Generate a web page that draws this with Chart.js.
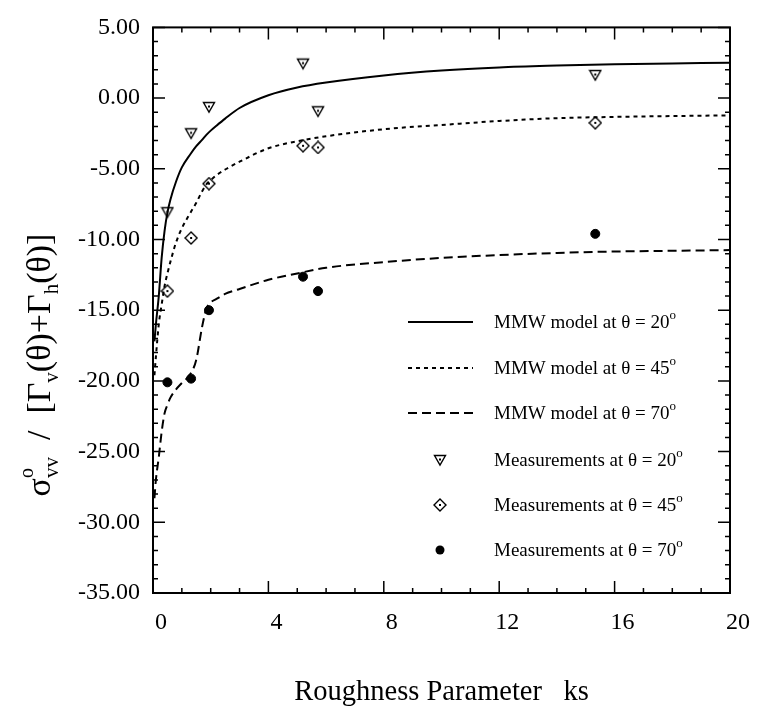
<!DOCTYPE html>
<html lang="en">
<head>
<meta charset="UTF-8">
<title>Roughness Parameter ks</title>
<script src="https://cdn.jsdelivr.net/npm/chart.js"></script>
<style>
  body { margin: 0; background: #ffffff; }
  canvas { display: block; }
</style>
</head>
<body>
<canvas id="grafico" width="757" height="710"></canvas>
<script>
// model curves
const ksModel = [0.05, 0.1, 0.2, 0.3, 0.4, 0.5, 0.6, 0.8, 1.0, 1.3, 1.5, 1.7, 1.85, 2.0, 2.2, 2.5, 3, 4, 5, 6, 8, 10, 12, 14, 16, 18, 20];
const model20 = [-17.2, -16.0, -14.0, -11.3, -9.4, -8.1, -7.2, -5.9, -4.9, -3.95, -3.4, -2.95, -2.6, -2.3, -1.95, -1.45, -0.7, 0.2, 0.75, 1.1, 1.6, 1.95, 2.17, 2.3, 2.4, 2.45, 2.5];
const model45 = [-19.6, -18.3, -16.0, -14.6, -13.3, -12.4, -11.6, -10.2, -9.2, -8.1, -7.4, -6.6, -6.1, -5.8, -5.45, -5.05, -4.5, -3.55, -3.05, -2.7, -2.2, -1.9, -1.62, -1.42, -1.33, -1.27, -1.22];
const model70 = [-28.3, -27.0, -25.4, -23.6, -22.3, -21.7, -21.2, -20.6, -20.15, -19.5, -18.5, -16.2, -14.9, -14.45, -14.2, -13.85, -13.5, -12.85, -12.4, -12.0, -11.6, -11.3, -11.1, -10.95, -10.85, -10.8, -10.75];

// measurements
const ksMeas = [0.5, 1.32, 1.94, 5.2, 5.72, 15.33];
const meas20 = [-8.07, -2.49, -0.63, 2.44, -0.93, 1.63];
const meas45 = [-13.65, -9.89, -6.05, -3.37, -3.49, -1.75];
const meas70 = [-20.1, -19.84, -15.0, -12.63, -13.65, -9.6];

const seriesLabels = [
  'MMW model at θ = 20°',
  'MMW model at θ = 45°',
  'MMW model at θ = 70°',
  'Measurements at θ = 20°',
  'Measurements at θ = 45°',
  'Measurements at θ = 70°'
];

const FONT = '"Liberation Serif", "Times New Roman", serif';

function pts(xs, ys) {
  return xs.map((x, i) => ({ x: x, y: ys[i] }));
}

// open markers with a dot in the middle
function makeMarker(kind) {
  const c = document.createElement('canvas');
  c.width = 14; c.height = 14;
  const g = c.getContext('2d');
  g.strokeStyle = '#000'; g.fillStyle = '#000'; g.lineWidth = 1.4;
  g.beginPath();
  if (kind === 'tri') {
    g.moveTo(1.5, 2.5); g.lineTo(12.5, 2.5); g.lineTo(7, 12); g.closePath();
    g.stroke();
    g.fillRect(6, 5.5, 2, 2);
  } else {
    g.moveTo(7, 1); g.lineTo(13, 7); g.lineTo(7, 13); g.lineTo(1, 7); g.closePath();
    g.stroke();
    g.fillRect(6, 6, 2, 2);
  }
  return c;
}
const triMark = makeMarker('tri');
const diaMark = makeMarker('dia');

// text with super/subscripts: [text, size, dy, noAdvance]
function richWidth(ctx, parts) {
  let w = 0;
  for (const p of parts) {
    ctx.font = p[1] + 'px ' + FONT;
    if (!p[3]) w += ctx.measureText(p[0]).width;
  }
  return w;
}
function drawRich(ctx, parts, x, y) {
  let cx = x;
  for (const p of parts) {
    ctx.font = p[1] + 'px ' + FONT;
    ctx.fillText(p[0], cx, y + p[2]);
    if (!p[3]) cx += ctx.measureText(p[0]).width;
  }
}

const decorations = {
  id: 'decorations',
  afterDatasetsDraw(chart) {
    const { ctx, chartArea: a, scales: { x, y } } = chart;
    ctx.save();
    ctx.strokeStyle = '#000';
    ctx.fillStyle = '#000';

    // frame
    ctx.lineWidth = 2;
    ctx.strokeRect(a.left, a.top, a.right - a.left, a.bottom - a.top);

    // inward ticks on all four sides
    ctx.lineWidth = 1.5;
    ctx.beginPath();
    for (let v = 0; v <= 20; v++) {
      const px = x.getPixelForValue(v);
      const len = v % 4 === 0 ? 12 : 5;
      ctx.moveTo(px, a.bottom); ctx.lineTo(px, a.bottom - len);
      ctx.moveTo(px, a.top); ctx.lineTo(px, a.top + len);
    }
    for (let v = -35; v <= 5; v++) {
      const py = y.getPixelForValue(v);
      const len = v % 5 === 0 ? 12 : 5;
      ctx.moveTo(a.left, py); ctx.lineTo(a.left + len, py);
      ctx.moveTo(a.right, py); ctx.lineTo(a.right - len, py);
    }
    ctx.stroke();

    // legend
    const rows = [322, 368, 413, 460, 505, 550];
    chart.data.datasets.forEach((ds, i) => {
      const ry = rows[i];
      if (ds.showLine !== false) {
        ctx.save();
        ctx.lineWidth = ds.borderWidth;
        ctx.setLineDash(ds.borderDash || []);
        ctx.beginPath();
        ctx.moveTo(408, ry); ctx.lineTo(473, ry);
        ctx.stroke();
        ctx.restore();
      } else if (ds.pointStyle === 'circle') {
        ctx.beginPath();
        ctx.arc(440, ry, ds.pointRadius, 0, Math.PI * 2);
        ctx.fill();
      } else {
        ctx.drawImage(ds.pointStyle, 440 - 7, ry - 7);
      }
      const bits = ds.label.split('°');
      ctx.textAlign = 'left';
      ctx.textBaseline = 'alphabetic';
      drawRich(ctx, [[bits[0], 19, 0], ['o', 13, -9]], 494, ry + 6);
    });

    // x title
    ctx.textBaseline = 'alphabetic';
    ctx.textAlign = 'center';
    ctx.font = '28.5px ' + FONT;
    ctx.fillText('Roughness Parameter   ks', (a.left + a.right) / 2, 700);

    // y title, rotated
    const yParts = [
      ['σ', 34, 0], ['o', 20, -17, true], ['vv', 21, 8], ['  /  [Γ', 34, 0], ['v', 21, 8],
      ['(θ)+Γ', 34, 0], ['h', 21, 8], ['(θ)]', 34, 0]
    ];
    ctx.textAlign = 'left';
    ctx.translate(50, 365);
    ctx.rotate(-Math.PI / 2);
    const w = richWidth(ctx, yParts);
    drawRich(ctx, yParts, -w / 2, 0);
    ctx.restore();
  }
};

const ctx = document.getElementById('grafico').getContext('2d');
new Chart(ctx, {
  type: 'scatter',
  data: {
    datasets: [
      {
        label: seriesLabels[0], type: 'line', data: pts(ksModel, model20),
        borderColor: '#000', borderWidth: 2, pointRadius: 0, cubicInterpolationMode: 'monotone'
      },
      {
        label: seriesLabels[1], type: 'line', data: pts(ksModel, model45),
        borderColor: '#000', borderWidth: 2, borderDash: [4, 4], pointRadius: 0, cubicInterpolationMode: 'monotone'
      },
      {
        label: seriesLabels[2], type: 'line', data: pts(ksModel, model70),
        borderColor: '#000', borderWidth: 2, borderDash: [9, 5], pointRadius: 0, cubicInterpolationMode: 'monotone'
      },
      {
        label: seriesLabels[3], data: pts(ksMeas, meas20), showLine: false,
        pointStyle: triMark, pointRadius: 7
      },
      {
        label: seriesLabels[4], data: pts(ksMeas, meas45), showLine: false,
        pointStyle: diaMark, pointRadius: 7
      },
      {
        label: seriesLabels[5], data: pts(ksMeas, meas70), showLine: false,
        pointStyle: 'circle', pointRadius: 4.5, backgroundColor: '#000', borderColor: '#000'
      }
    ]
  },
  options: {
    responsive: false,
    animation: false,
    layout: { padding: { left: 0, right: 21, top: 20, bottom: 0 } },
    plugins: {
      legend: { display: false },
      tooltip: { enabled: false }
    },
    scales: {
      x: {
        type: 'linear', min: 0, max: 20,
        grid: { display: false, drawTicks: false },
        border: { display: false },
        ticks: {
          stepSize: 4, padding: 15, labelOffset: 8, maxRotation: 0,
          color: '#000', font: { family: FONT, size: 24 }
        },
        afterFit(s) { s.height = 117; }
      },
      y: {
        type: 'linear', min: -35, max: 5,
        grid: { display: false, drawTicks: false },
        border: { display: false },
        ticks: {
          stepSize: 5, padding: 13, color: '#000',
          font: { family: FONT, size: 24 },
          callback: v => v.toFixed(2)
        },
        afterFit(s) { s.width = 153; }
      }
    }
  },
  plugins: [decorations]
});
</script>
</body>
</html>
